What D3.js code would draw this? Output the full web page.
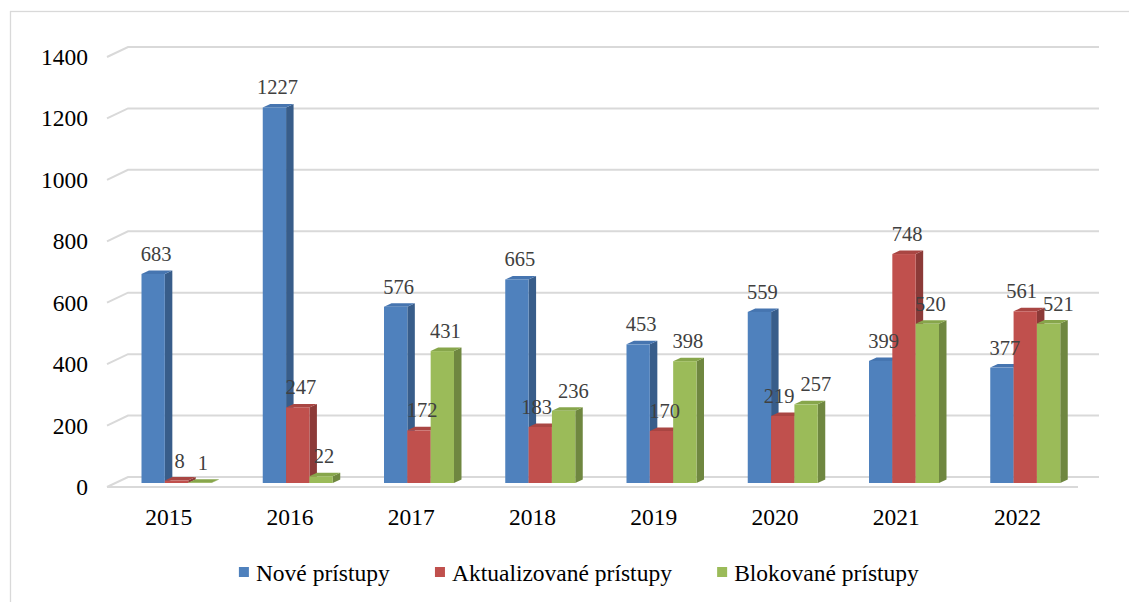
<!DOCTYPE html>
<html>
<head>
<meta charset="utf-8">
<script src="https://cdn.jsdelivr.net/npm/d3@7"></script>
<style>
  body { margin: 0; background: #fff; }
</style>
</head>
<body>
<svg id="chart" width="1129" height="602"></svg>
<script>
var years = ['2015', '2016', '2017', '2018', '2019', '2020', '2021', '2022'];
var seriesNames = ['Nové prístupy', 'Aktualizované prístupy', 'Blokované prístupy'];
var nove = [683, 1227, 576, 665, 453, 559, 399, 377];
var aktualizovane = [8, 247, 172, 183, 170, 219, 748, 561];
var blokovane = [1, 22, 431, 236, 398, 257, 520, 521];
var yTicks = [0, 200, 400, 600, 800, 1000, 1200, 1400];

var colors = [
  { front: '#4f81bd', side: '#385d8a', top: '#4675b0' },
  { front: '#c0504d', side: '#8c3a38', top: '#a94643' },
  { front: '#9bbb59', side: '#6f8740', top: '#87a64b' }
];

var values = [nove, aktualizovane, blokovane];

// wall depth offset and bar depth offset
var wallDx = 21, wallDy = -10;
var barDx = 7.5, barDy = -3.5;

var svg = d3.select('#chart').style('font-family', 'Liberation Serif');

// outer frame
svg.append('rect')
  .attr('x', 10.5).attr('y', 11.5)
  .attr('width', 1140).attr('height', 620)
  .attr('fill', 'none')
  .attr('stroke', '#d9d9d9')
  .attr('stroke-width', 1.3);

var x = d3.scaleBand().domain(years).range([108, 1078]);
var xs = d3.scaleBand().domain(d3.range(3)).range([33.5, 33.5 + 70]);

var yFront = d3.scaleLinear().domain([0, 1400]).range([487, 57]);
var yBar = d3.scaleLinear().domain([0, 1400]).range([483, 54.5]);

// gridlines: slanted part + back wall line
var grid = svg.append('g').attr('class', 'grid')
  .attr('stroke', '#d9d9d9').attr('stroke-width', 2).attr('fill', 'none');

yTicks.forEach(function(t) {
  var yf = yFront(t);
  grid.append('path')
    .attr('d', 'M' + 107 + ',' + yf + 'L' + (107 + wallDx) + ',' + (yf + wallDy) +
      'L' + (1078 + wallDx) + ',' + (yf + wallDy));
});
// floor front edge
grid.append('line')
  .attr('x1', 107).attr('x2', 1078)
  .attr('y1', yFront(0)).attr('y2', yFront(0));

// y axis labels
svg.append('g').selectAll('text')
  .data(yTicks)
  .enter().append('text')
  .attr('x', 88)
  .attr('y', function(d) { return yFront(d) + 8; })
  .attr('text-anchor', 'end')
  .style('font-family', 'Liberation Serif')
  .attr('font-size', 23.5)
  .attr('fill', '#000')
  .text(function(d) { return d; });

// x axis labels
svg.append('g').selectAll('text')
  .data(years)
  .enter().append('text')
  .attr('x', function(d) { return x(d) + x.bandwidth() / 2; })
  .attr('y', 525)
  .attr('text-anchor', 'middle')
  .style('font-family', 'Liberation Serif')
  .attr('font-size', 23.5)
  .attr('fill', '#000')
  .text(function(d) { return d; });

// bars
var bars = svg.append('g').attr('class', 'bars');
years.forEach(function(yr, i) {
  values.forEach(function(vals, s) {
    var v = vals[i];
    var x0 = x(yr) + xs(s);
    var w = xs.bandwidth();
    var y0 = yBar(v);
    var yb = yBar(0);
    var c = colors[s];
    var g = bars.append('g');
    // side face
    g.append('path')
      .attr('d', 'M' + (x0 + w) + ',' + y0 + 'L' + (x0 + w + barDx) + ',' + (y0 + barDy) +
        'L' + (x0 + w + barDx) + ',' + (yb + barDy) + 'L' + (x0 + w) + ',' + yb + 'Z')
      .attr('fill', c.side);
    // top face
    g.append('path')
      .attr('d', 'M' + x0 + ',' + y0 + 'L' + (x0 + barDx) + ',' + (y0 + barDy) +
        'L' + (x0 + w + barDx) + ',' + (y0 + barDy) + 'L' + (x0 + w) + ',' + y0 + 'Z')
      .attr('fill', c.top);
    // front face
    g.append('rect')
      .attr('x', x0).attr('y', y0)
      .attr('width', w).attr('height', yb - y0)
      .attr('fill', c.front);
  });
});

// value labels, nudged sideways when neighbours collide (like Excel does)
var labels = svg.append('g').attr('class', 'labels');
years.forEach(function(yr, i) {
  var group = values.map(function(vals, s) {
    var t = labels.append('text')
      .attr('text-anchor', 'middle')
      .style('font-family', 'Liberation Serif')
      .attr('font-size', 20.5)
      .attr('fill', '#404040')
      .text(vals[i]);
    return {
      node: t,
      cx: x(yr) + xs(s) + xs.bandwidth() / 2 + 3,
      y: yBar(vals[i]) - 13,
      w: t.node().getComputedTextLength()
    };
  });
  for (var k = 1; k < group.length; k++) {
    var a = group[k - 1], b = group[k];
    if (Math.abs(a.y - b.y) < 19) {
      var overlap = (a.cx + a.w / 2) - (b.cx - b.w / 2) + 6;
      if (overlap > 0) {
        a.cx -= overlap / 2;
        b.cx += overlap / 2;
      }
    }
  }
  group.forEach(function(l) {
    l.node.attr('x', l.cx).attr('y', l.y);
  });
});

// legend
var legend = svg.append('g').attr('class', 'legend');
var items = legend.selectAll('g')
  .data(seriesNames)
  .enter().append('g');
items.append('rect')
  .attr('width', 10).attr('height', 10)
  .attr('y', 567)
  .attr('fill', function(d, i) { return colors[i].front; });
items.append('text')
  .attr('x', 17)
  .attr('y', 581)
  .style('font-family', 'Liberation Serif')
  .attr('font-size', 23.5)
  .attr('fill', '#000')
  .text(function(d) { return d; });

var widths = [];
items.each(function() { widths.push(this.getBBox().width); });
var gap = 45;
var total = d3.sum(widths) + gap * (widths.length - 1);
var start = 579 - total / 2;
var pos = start;
items.attr('transform', function(d, i) {
  var p = pos;
  pos += widths[i] + gap;
  return 'translate(' + p + ',0)';
});
</script>
</body>
</html>
